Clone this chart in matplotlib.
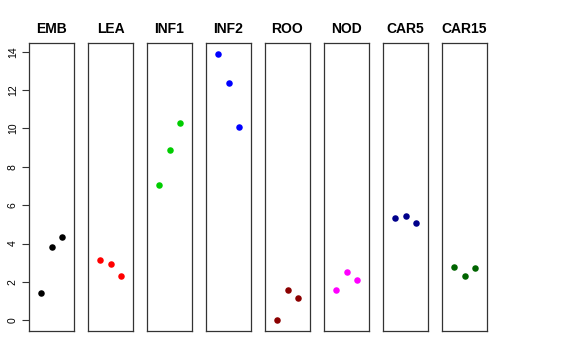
import matplotlib
matplotlib.use("Agg")
import matplotlib.pyplot as plt

plt.rcParams["font.family"] = ["Liberation Sans", "DejaVu Sans"]

groups = ["EMB", "LEA", "INF1", "INF2", "ROO", "NOD", "CAR5", "CAR15"]
values = [
    [1.44, 3.84, 4.36],
    [3.12, 2.93, 2.33],
    [7.03, 8.87, 10.27],
    [13.90, 12.39, 10.07],
    [0.02, 1.56, 1.18],
    [1.58, 2.50, 2.10],
    [5.36, 5.45, 5.09],
    [2.80, 2.31, 2.71],
]
colors = ["black", "red", "#00CD00", "blue", "#8B0000", "magenta", "#00008B", "#006400"]
yticks = [0, 2, 4, 6, 8, 10, 12, 14]

W, H = 576, 360
fig = plt.figure(figsize=(W / 100, H / 100), dpi=100)

left0, step, pw = 29, 59, 45
top, bottom = 43, 331
ylo, yhi = -0.556, 14.456

for i, (name, vals, col) in enumerate(zip(groups, values, colors)):
    ax = fig.add_axes([(left0 + i * step) / W, (H - bottom) / H, pw / W, (bottom - top) / H])
    ax.scatter(range(1, len(vals) + 1), vals, color=col, s=22, zorder=3, linewidths=0)
    ax.set_xlim(-0.16, 4.16)
    ax.set_ylim(ylo, yhi)
    ax.set_xticks([])
    ax.set_title(name, fontsize=10, fontweight="bold", pad=7)
    for sp in ax.spines.values():
        sp.set_linewidth(0.9)
        sp.set_color("#333333")
    if i == 0:
        ax.set_yticks(yticks)
        ax.set_yticklabels([str(t) for t in yticks], rotation=90, va="center", fontsize=7.5)
        ax.tick_params(axis="y", length=5, width=0.8, pad=3, color="#333333")
    else:
        ax.set_yticks([])

fig.savefig("out.png", dpi=100)
